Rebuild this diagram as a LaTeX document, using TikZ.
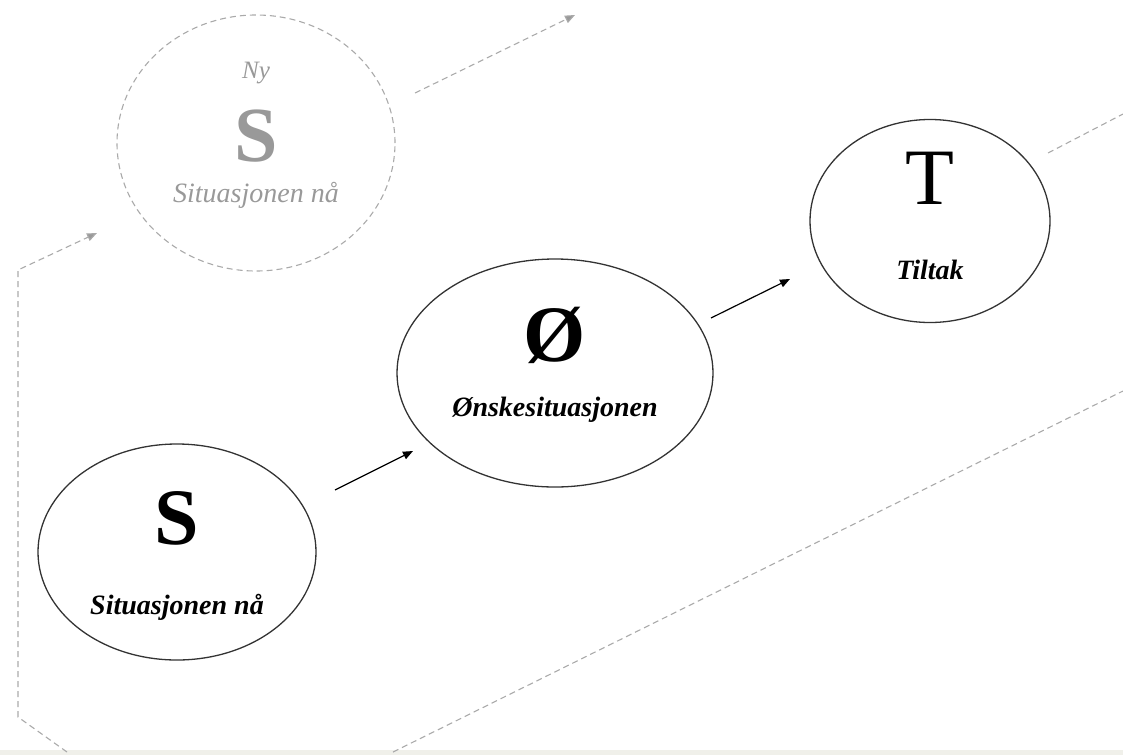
\documentclass[tikz,border=0pt]{standalone}
\usepackage{fontspec}
\setmainfont{Liberation Serif}
\usetikzlibrary{shapes.geometric,arrows.meta}
\definecolor{ghost}{HTML}{999999}
\definecolor{ghostline}{HTML}{AAAAAA}
\definecolor{edgeline}{HTML}{333333}
\definecolor{strip}{HTML}{F0F0EA}
\begin{document}
\begin{tikzpicture}[x=1pt,y=-1pt,
  bubble/.style={ellipse,draw=edgeline,line width=1.3pt,inner sep=0pt},
  ghostbubble/.style={ellipse,draw=ghostline,line width=1.1pt,dash pattern=on 6pt off 4pt,inner sep=0pt},
  flow/.style={draw=black,line width=1.2pt,-{Triangle[length=10pt,width=8pt]}},
  ghostflow/.style={draw=ghostline,line width=1.1pt,dash pattern=on 6pt off 4pt},
  ghosttip/.style={ghostflow,-{Triangle[length=10pt,width=8pt,fill=ghost]}},
  bigletter/.style={inner sep=0pt,font=\fontsize{80}{80}\selectfont},
  label/.style={inner sep=0pt,font=\fontsize{28}{30}\selectfont\bfseries\itshape}
]
\useasboundingbox (0,0) rectangle (1123,755);
\fill[strip] (0,750) rectangle (1123,755);

% ghost node
\node[ghostbubble,minimum width=278pt,minimum height=256pt] (g) at (256,143) {};
\node[inner sep=0pt,text=ghost,font=\fontsize{25}{25}\selectfont\itshape] (gny) at (256,73) {Ny};
\node[bigletter,text=ghost,font=\fontsize{78}{78}\selectfont\bfseries] (gs) at (256,136) {S};
\node[inner sep=0pt,text=ghost,font=\fontsize{28}{30}\selectfont\itshape] (glab) at (256,195) {Situasjonen nå};

% main nodes
\node[bubble,minimum width=278pt,minimum height=216pt] (s) at (177,552) {};
\node[bigletter,font=\fontsize{80}{80}\selectfont\bfseries] (sl) at (177,518) {S};
\node[label] (slab) at (177,607) {Situasjonen nå};

\node[bubble,minimum width=316pt,minimum height=228pt] (o) at (555,373) {};
\node[bigletter,font=\fontsize{80}{80}\selectfont\bfseries] (ol) at (555,335) {Ø};
\node[label] (olab) at (555,410) {Ønskesituasjonen};

\node[bubble,minimum width=240pt,minimum height=203pt] (t) at (930,221) {};
\node[bigletter] (tl) at (930,178) {T};
\node[label] (tlab) at (930,270) {Tiltak};

% arrows between main nodes
\coordinate (a1s) at (335,490);
\coordinate (a1e) at (413,451);
\coordinate (a2s) at (711,318);
\coordinate (a2e) at (790,279);
\draw[flow] (a1s) -- (a1e);
\draw[flow] (a2s) -- (a2e);

% ghost loop connectors
\coordinate (l0) at (67,752);
\coordinate (l1) at (18,717);
\coordinate (l2) at (18,270);
\coordinate (l3) at (97,233);
\draw[ghosttip] (l0) -- (l1) -- (l2) -- (l3);

\coordinate (u0) at (415,93);
\coordinate (u1) at (575,15);
\draw[ghosttip] (u0) -- (u1);

\coordinate (r0) at (1048,153);
\coordinate (r1) at (1123,114);
\draw[ghostflow] (r0) -- (r1);

\coordinate (b0) at (393,752);
\coordinate (b1) at (1123,391);
\draw[ghostflow] (b0) -- (b1);
\end{tikzpicture}
\end{document}
